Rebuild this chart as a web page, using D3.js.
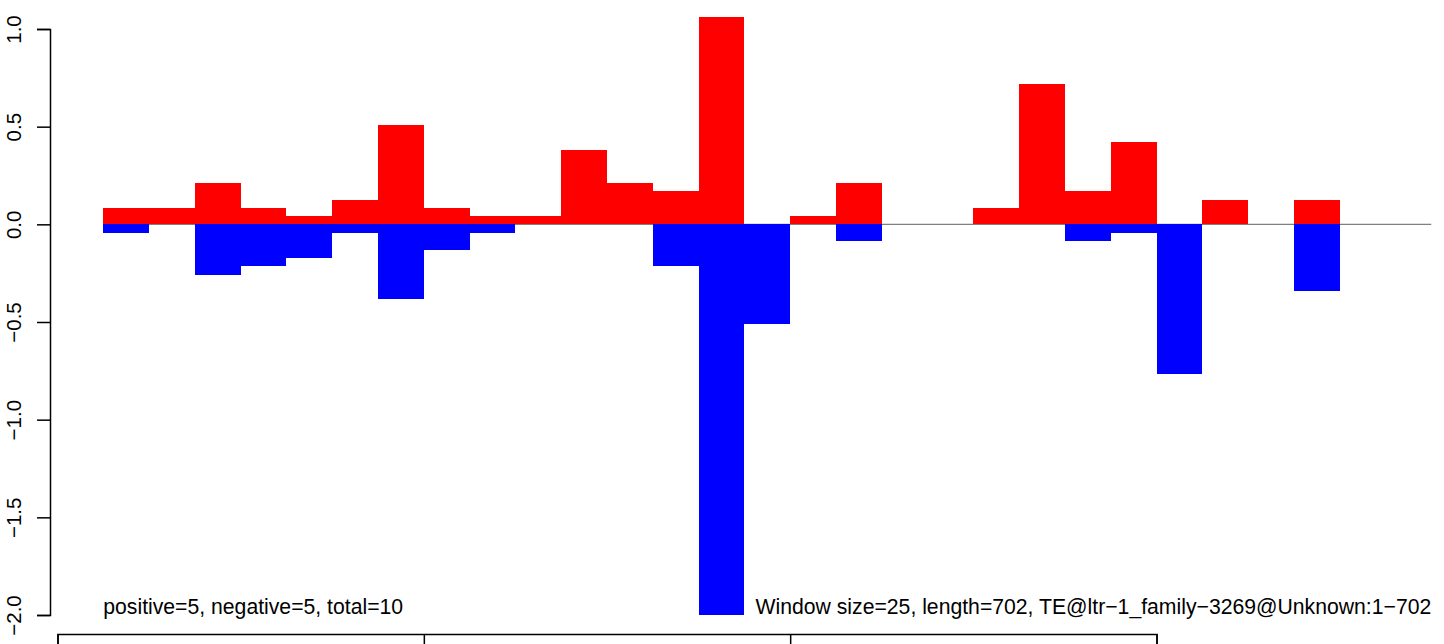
<!DOCTYPE html>
<html>
<head>
<meta charset="utf-8">
<script src="https://cdn.jsdelivr.net/npm/d3@7"></script>
<style>
  html, body { margin: 0; padding: 0; background: #fff; }
  svg { display: block; }
  text { font-family: "Liberation Sans", Arial, Helvetica, sans-serif; }
</style>
</head>
<body>
<script>
// Window start positions (bp), window size 25
const windowStart = [25, 50, 75, 100, 125, 150, 175, 200, 225, 250, 275, 300, 325, 350, 375,
                     400, 425, 450, 475, 500, 525, 550, 575, 600, 625, 650, 675, 700, 725];
const windowSize = 25;
// positive strand values per window
const positiveValues = [0.083, 0.083, 0.211, 0.083, 0.042, 0.124, 0.508, 0.083, 0.042, 0.042,
                        0.38, 0.211, 0.17, 1.062, 0, 0.042, 0.211, 0, 0, 0.083,
                        0.72, 0.17, 0.42, 0, 0.124, 0, 0.124, 0, 0];
// negative strand values per window
const negativeValues = [-0.043, 0, -0.26, -0.213, -0.172, -0.043, -0.381, -0.13, -0.043, 0,
                        0, 0, -0.213, -2.0, -0.51, 0, -0.085, 0, 0, 0,
                        0, -0.085, -0.043, -0.766, 0, 0, -0.34, 0, 0];
const yTicks = [-2.0, -1.5, -1.0, -0.5, 0.0, 0.5, 1.0];
const xTicks = [0, 200, 400, 600];
const lineEnd = 750;
const leftLabel = "positive=5, negative=5, total=10";
const rightLabel = "Window size=25, length=702, TE@ltr\u22121_family\u22123269@Unknown:1\u2212702";

const W = 1444, H = 644;
const svg = d3.select("body").append("svg").attr("width", W).attr("height", H);

const x = d3.scaleLinear().domain([0, 600]).range([57.5, 1156.5]);
const y = d3.scaleLinear().domain([-2, 1]).range([615, 29]);

// zero line
svg.append("line")
  .attr("x1", x(windowStart[0])).attr("x2", x(lineEnd))
  .attr("y1", y(0)).attr("y2", y(0))
  .attr("stroke", "#7f7f7f").attr("stroke-width", 1.2);

const data = windowStart.map((s, i) => ({ s, pos: positiveValues[i], neg: negativeValues[i] }));

// negative bars
svg.append("g").attr("shape-rendering", "crispEdges")
  .selectAll("rect").data(data.filter(d => d.neg < 0)).join("rect")
  .attr("x", d => x(d.s)).attr("width", d => x(d.s + windowSize) - x(d.s))
  .attr("y", y(0)).attr("height", d => y(d.neg) - y(0))
  .attr("fill", "#0000ff");

// positive bars
svg.append("g").attr("shape-rendering", "crispEdges")
  .selectAll("rect").data(data.filter(d => d.pos > 0)).join("rect")
  .attr("x", d => x(d.s)).attr("width", d => x(d.s + windowSize) - x(d.s))
  .attr("y", d => y(d.pos)).attr("height", d => y(0) - y(d.pos))
  .attr("fill", "#ff0000");

// y axis
const yAxis = svg.append("g").attr("transform", "translate(50,0)")
  .call(d3.axisLeft(y).tickValues(yTicks).tickFormat(d3.format(".1f")).tickSizeOuter(0).tickSize(13));
yAxis.select(".domain").attr("stroke", "#000").attr("stroke-width", 1.5);
yAxis.selectAll(".tick line").attr("stroke", "#000").attr("stroke-width", 1.5);
yAxis.selectAll(".tick text")
  .attr("x", null).attr("dy", null)
  .attr("transform", "translate(-29,0) rotate(-90)")
  .attr("text-anchor", "middle")
  .attr("fill", "#000")
  .style("font-size", "20.5px")
  .style("font-family", "'Liberation Sans', Arial, sans-serif");

// x axis (labels fall below the visible area)
const xAxis = svg.append("g").attr("transform", "translate(0,634)")
  .call(d3.axisBottom(x).tickValues(xTicks).tickFormat("").tickSizeOuter(0).tickSize(13));
xAxis.select(".domain").attr("stroke", "#000").attr("stroke-width", 1.5);
xAxis.selectAll(".tick line").attr("stroke", "#000").attr("stroke-width", 1.5);

// annotations
svg.append("text").attr("x", x(windowStart[0])).attr("y", 614)
  .attr("font-size", 21.2).attr("fill", "#000").text(leftLabel);
svg.append("text").attr("x", x(lineEnd)).attr("y", 614)
  .attr("text-anchor", "end").attr("font-size", 21.2).attr("fill", "#000").text(rightLabel);
</script>
</body>
</html>
